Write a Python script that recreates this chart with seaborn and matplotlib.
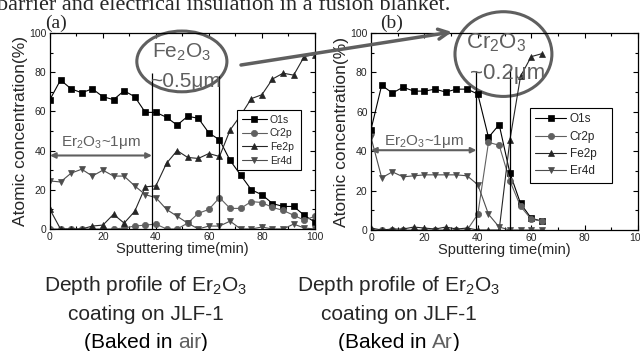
import matplotlib
matplotlib.use('Agg')
import matplotlib.pyplot as plt
import seaborn as sns
from matplotlib.patches import Ellipse, FancyArrowPatch

# sputtering time (min)
times_a = [0, 4, 8, 12, 16, 20, 24, 28, 32, 36, 40, 44, 48, 52, 56, 60, 64, 68, 72, 76, 80, 84, 88, 92, 96, 100]
times_b = [0, 4, 8, 12, 16, 20, 24, 28, 32, 36, 40, 44, 48, 52, 56, 60, 64]

# (a) baked in air, atomic concentration (%)
o1s_a = [66, 76, 71.5, 69.5, 71.5, 67.5, 66, 70.5, 67.5, 59.5, 59.5, 57, 53, 57.5, 56.5, 49, 45.5, 35, 27.5, 20, 17.5, 13, 11.5, 11.5, 7, 3.5]
cr2p_a = [0, 0, 0, 0, 0, 0, 0, 0.5, 1.5, 2, 2.5, 0, 0, 3, 8, 10, 16, 10.5, 10.5, 14, 13.5, 11, 9.5, 7, 4.5, 6.5]
fe2p_a = [10, 0, 0, 0, 1.5, 2, 7.5, 3, 9, 21.5, 22, 33.5, 40, 36.5, 36, 38.5, 37, 50.5, 58, 66.5, 68.5, 76.5, 79.5, 78.5, 88, 89]
er4d_a = [24.5, 24, 28.5, 30.5, 27, 30, 27, 27, 22, 17.5, 16, 10, 6.5, 3, 0, 1.5, 1.5, 4, 0, 0, 1, 0, 0, 2.5, 0.5, 0]

# (b) baked in Ar
o1s_b = [51, 73.5, 69.5, 72.5, 70.5, 70.5, 71.5, 70, 71.5, 71.5, 69, 47, 53.5, 29, 13.5, 6, 4.5]
cr2p_b = [0, 0, 0, 0, 0, 0, 0, 0, 0, 0, 8, 44.5, 43, 25, 12, 5.5, 4.5]
fe2p_b = [1, 0, 0.5, 0.5, 1.5, 1, 0.5, 1.5, 0.5, 1, 0, 0, 0, 45.5, 78, 88, 89.5]
er4d_b = [47, 26.5, 29.5, 27, 27.5, 28, 28, 28, 28, 27.5, 23, 8, 1.5, 0, 0, 0, 0]

names = ['O1s', 'Cr2p', 'Fe2p', 'Er4d']
markers = ['s', 'o', '^', 'v']
colors = ['#000000', '#606060', '#262626', '#4d4d4d']
gray = '#5f5f5f'

sns.set_theme(style='ticks')
plt.rcParams['font.family'] = ['Liberation Sans', 'DejaVu Sans']
plt.rcParams['mathtext.fontset'] = 'custom'
plt.rcParams['mathtext.rm'] = 'Liberation Sans'
plt.rcParams['mathtext.it'] = 'Liberation Sans:italic'

W, H = 640, 351
fig = plt.figure(figsize=(W / 100, H / 100), dpi=100)


def fxy(px, py):
    # figure pixel (from top-left) -> figure fraction
    return px / W, 1 - py / H


def draw_panel(ax, times, series, leg_box, leg_size, handlelen, spacing):
    for vals, name, mk, c in zip(series, names, markers, colors):
        sns.lineplot(x=times, y=vals, ax=ax, color=c, marker=mk, markersize=4.5,
                     markeredgecolor=c, markeredgewidth=0.5, linewidth=0.8, label=name)
    ax.set_xlim(0, 100)
    ax.set_ylim(0, 100)
    ax.set_xticks([0, 20, 40, 60, 80, 100])
    ax.set_yticks([0, 20, 40, 60, 80, 100])
    ax.set_xticks(range(10, 100, 20), minor=True)
    ax.set_yticks(range(10, 100, 20), minor=True)
    ax.tick_params(which='both', direction='in', top=True, right=True, width=0.8,
                   labelsize=7.5, pad=2.5, color='black')
    ax.tick_params(which='major', length=3.5)
    ax.tick_params(which='minor', length=2)
    for sp in ax.spines.values():
        sp.set_color('black')
        sp.set_linewidth(0.9)
    ax.set_xlabel('Sputtering time(min)', fontsize=10.5, labelpad=0)
    ax.set_ylabel('Atomic concentration(%)', fontsize=12.5, labelpad=1)
    leg = ax.legend(loc='upper left', bbox_to_anchor=leg_box, mode='expand', borderaxespad=0,
                    fancybox=False, framealpha=1, edgecolor='black', fontsize=leg_size,
                    handlelength=handlelen, labelspacing=spacing, borderpad=0.45,
                    handletextpad=0.3, facecolor='white')
    leg.get_frame().set_linewidth(0.8)


ax_a = fig.add_axes([0.078, 0.3476, 0.414, 0.5584])
ax_b = fig.add_axes([0.5797, 0.3447, 0.4172, 0.5613])

draw_panel(ax_a, times_a, [o1s_a, cr2p_a, fe2p_a, er4d_a], (0.706, 0.307, 0.2415, 0.3), 7.5, 2.4, 0.35)
draw_panel(ax_b, times_b, [o1s_b, cr2p_b, fe2p_b, er4d_b], (0.5955, 0.319, 0.307, 0.3), 8.5, 2.6, 0.45)

# layer boundaries
ax_a.vlines([38.5, 64], 0, [79.5, 78], color='black', linewidth=0.9)
ax_b.vlines([39.5, 52], 0, [80.5, 81.5], color='black', linewidth=0.9)

# Er2O3 thickness arrows
for ax, x1, y, ty in [(ax_a, 38.5, 37.5, 44), (ax_b, 39.5, 40.5, 45)]:
    ax.annotate('', xy=(0, y), xytext=(x1, y),
                arrowprops=dict(arrowstyle='<|-|>', color=gray, lw=1.5, mutation_scale=8,
                                shrinkA=0, shrinkB=0))
    ax.text(x1 / 2, ty, 'Er$_2$O$_3$~1\u03bcm', color=gray, fontsize=11,
            ha='center', va='center')

# oxide layer circles
ax_a.add_patch(Ellipse((49.8, 85.5), 34, 31, fill=False, edgecolor=gray, lw=2.2, clip_on=False))
ax_a.text(49.8, 90, 'Fe$_2$O$_3$', color=gray, fontsize=15, ha='center', va='center')
ax_a.text(51.3, 75.5, '~0.5\u03bcm', color=gray, fontsize=15, ha='center', va='center')

ax_b.add_patch(Ellipse((49.6, 89.3), 36.3, 43, fill=False, edgecolor=gray, lw=2.2, clip_on=False))
ax_b.text(47, 95, 'Cr$_2$O$_3$', color=gray, fontsize=16, ha='center', va='center')
ax_b.text(51.2, 79.5, '~0.2\u03bcm', color=gray, fontsize=16, ha='center', va='center')

# big arrow from (a) to (b)
fig.add_artist(FancyArrowPatch(fxy(241, 65), fxy(452, 32), transform=fig.transFigure,
                               arrowstyle='->', color=gray, lw=2.5, mutation_scale=18,
                               shrinkA=0, shrinkB=0))

# panel labels
fig.text(*fxy(45, 28), '(a)', family='Liberation Serif', fontsize=14, va='baseline')
fig.text(*fxy(380, 28), '(b)', family='Liberation Serif', fontsize=14, va='baseline')

# cut-off sentence at the top
fig.text(*fxy(-3, 9.5), 'barrier and electrical insulation in a fusion blanket.',
         family='Liberation Serif', fontsize=16, va='baseline')

# captions
renderer = fig.canvas.get_renderer()


def colored_line(cx, py, parts, size):
    texts = []
    for s, c in parts:
        texts.append(fig.text(0, 1 - py / H, s, color=c, fontsize=size, va='baseline'))
    widths = [t.get_window_extent(renderer).width for t in texts]
    x = cx - sum(widths) / 2
    for t, w in zip(texts, widths):
        t.set_x(x / W)
        x += w


for cx, gas in [(146, 'air'), (399, 'Ar')]:
    fig.text(cx / W, 1 - 291 / H, 'Depth profile of Er$_2$O$_3$', fontsize=15,
             ha='center', va='baseline')
    fig.text(cx / W, 1 - 320 / H, 'coating on JLF-1', fontsize=15, ha='center', va='baseline')
    colored_line(cx, 348, [('(Baked in ', 'black'), (gas, gray), (')', 'black')], 15)

fig.savefig('out.png', dpi=100)
